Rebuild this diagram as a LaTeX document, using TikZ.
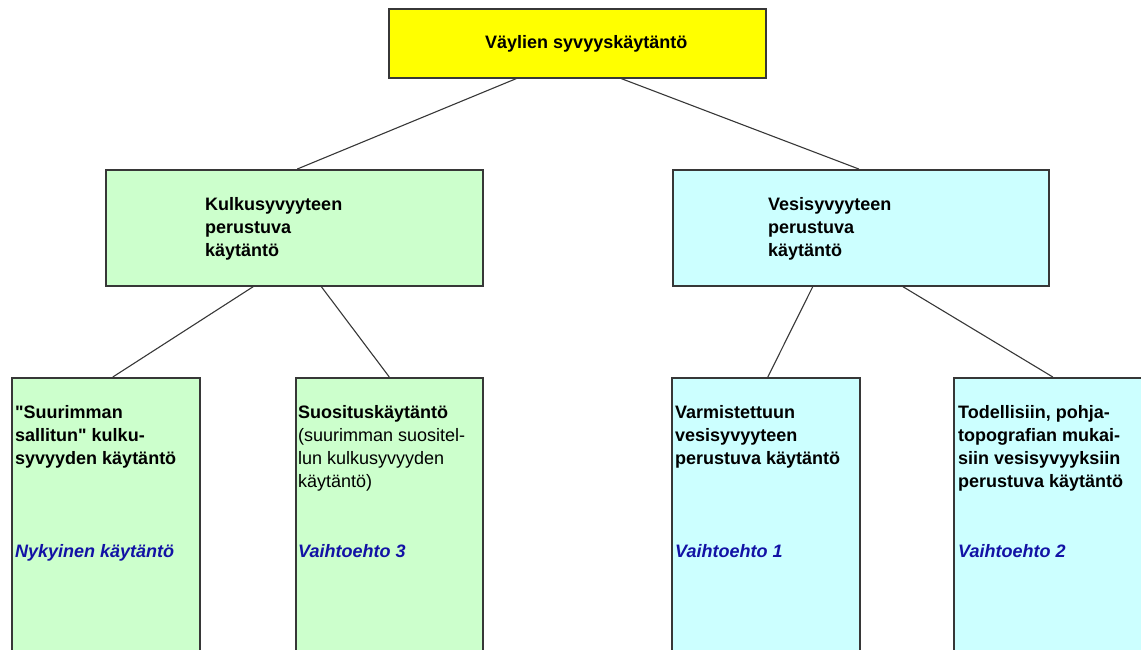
\documentclass[tikz,border=0pt]{standalone}
\usepackage{fontspec}
\setmainfont{Liberation Sans}[Ligatures=TeXOff]

\definecolor{boxyellow}{RGB}{255,255,0}
\definecolor{boxgreen}{RGB}{204,255,204}
\definecolor{boxcyan}{RGB}{204,255,255}
\definecolor{choiceblue}{RGB}{18,18,165}
\definecolor{edgegray}{RGB}{55,55,55}

\tikzset{
  box/.style={draw=edgegray, line width=1.6pt, anchor=north west, inner sep=0pt},
  link/.style={draw=edgegray, line width=1.1pt},
  lbl/.style={anchor=base west, inner sep=0pt, align=left, font=\fontsize{18}{23}\selectfont\bfseries},
  choice/.style={lbl, text=choiceblue, font=\fontsize{18}{23}\selectfont\bfseries\itshape}
}

\begin{document}
\begin{tikzpicture}[x=1pt, y=-1pt]
\useasboundingbox (0,0) rectangle (1141,649);
\node[box, fill=boxyellow, minimum width=377pt, minimum height=69pt] (top) at (388,8) {};
\node[box, fill=boxgreen, minimum width=377pt, minimum height=116pt] (kulku) at (105,169) {};
\node[box, fill=boxcyan, minimum width=376pt, minimum height=116pt] (vesi) at (672,169) {};
\node[box, fill=boxgreen, minimum width=188pt, minimum height=290pt] (nyky) at (11,377) {};
\node[box, fill=boxgreen, minimum width=187pt, minimum height=290pt] (vt3) at (295,377) {};
\node[box, fill=boxcyan, minimum width=188pt, minimum height=290pt] (vt1) at (671,377) {};
\node[box, fill=boxcyan, minimum width=192pt, minimum height=290pt] (vt2) at (953,377) {};
\draw[link] ([xshift=-61pt]top.south) -- ([xshift=3pt]kulku.north);
\draw[link] ([xshift=44pt]top.south) -- ([xshift=-2pt]vesi.north);
\draw[link] ([xshift=-41pt]kulku.south) -- ([xshift=7pt]nyky.north);
\draw[link] ([xshift=27pt]kulku.south) -- (vt3.north);
\draw[link] ([xshift=-48pt]vesi.south) -- ([xshift=2pt]vt1.north);
\draw[link] ([xshift=42pt]vesi.south) -- ([xshift=3pt]vt2.north);
% texts: base is the last line
\node[lbl] (top-txt) at (485,48) {Väylien syvyyskäytäntö};
\node[lbl] (kulku-txt) at (205,256) {Kulkusyvyyteen\\perustuva\\käytäntö};
\node[lbl] (vesi-txt) at (768,256) {Vesisyvyyteen\\perustuva\\käytäntö};
\node[lbl] (nyky-txt) at (15,464) {"Suurimman\\sallitun" kulku-\\syvyyden käytäntö};
\node[lbl, font=\fontsize{18}{23}\selectfont] (vt3-txt) at (298,487) {\textbf{Suosituskäytäntö}\\(suurimman suositel-\\lun kulkusyvyyden\\käytäntö)};
\node[lbl] (vt1-txt) at (675,464) {Varmistettuun\\vesisyvyyteen\\perustuva käytäntö};
\node[lbl] (vt2-txt) at (958,487) {Todellisiin, pohja-\\topografian mukai-\\siin vesisyvyyksiin\\perustuva käytäntö};
\node[choice] (nyky-lbl) at (15,557) {Nykyinen käytäntö};
\node[choice] (vt3-lbl) at (298,557) {Vaihtoehto 3};
\node[choice] (vt1-lbl) at (675,557) {Vaihtoehto 1};
\node[choice] (vt2-lbl) at (958,557) {Vaihtoehto 2};
\end{tikzpicture}
\end{document}
